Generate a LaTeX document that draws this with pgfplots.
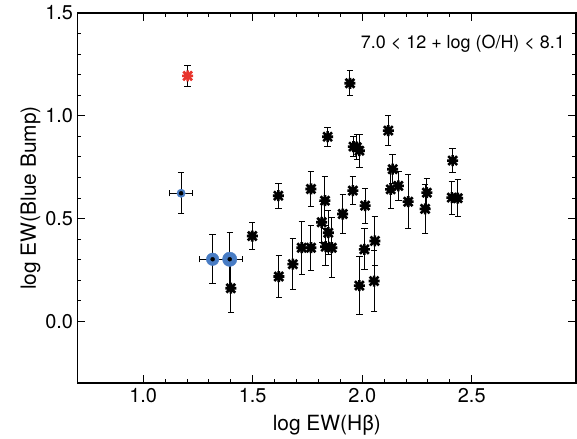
\documentclass[border=0pt]{standalone}
\usepackage{fontspec}
\setmainfont{TeX Gyre Heros}
\usepackage{pgfplots}
\usepackage{pgfplotstable}
\pgfplotsset{compat=1.18}
\definecolor{ptblue}{RGB}{72,124,196}
\definecolor{ptred}{RGB}{232,52,44}
\pgfdeclareplotmark{burst}{%
  \pgfpathmoveto{\pgfqpoint{-\pgfplotmarksize}{0pt}}%
  \pgfpathlineto{\pgfqpoint{\pgfplotmarksize}{0pt}}%
  \pgfpathmoveto{\pgfqpoint{0pt}{-\pgfplotmarksize}}%
  \pgfpathlineto{\pgfqpoint{0pt}{\pgfplotmarksize}}%
  \pgfpathmoveto{\pgfqpoint{-0.8\pgfplotmarksize}{-0.8\pgfplotmarksize}}%
  \pgfpathlineto{\pgfqpoint{0.8\pgfplotmarksize}{0.8\pgfplotmarksize}}%
  \pgfpathmoveto{\pgfqpoint{-0.8\pgfplotmarksize}{0.8\pgfplotmarksize}}%
  \pgfpathlineto{\pgfqpoint{0.8\pgfplotmarksize}{-0.8\pgfplotmarksize}}%
  \pgfusepathqstroke}
\pgfplotstableread{
x y ey
1.400 0.161 0.120
1.498 0.415 0.065
1.617 0.611 0.060
1.619 0.218 0.100
1.683 0.278 0.125
1.724 0.358 0.130
1.766 0.358 0.110
1.766 0.644 0.087
1.815 0.482 0.100
1.830 0.587 0.120
1.833 0.363 0.090
1.845 0.431 0.107
1.861 0.358 0.145
1.842 0.898 0.047
1.911 0.522 0.093
1.944 1.158 0.060
1.957 0.636 0.070
1.960 0.850 0.050
1.975 0.847 0.060
1.987 0.830 0.080
1.987 0.174 0.140
2.010 0.350 0.100
2.013 0.563 0.085
2.054 0.196 0.150
2.058 0.391 0.120
2.119 0.928 0.075
2.130 0.642 0.095
2.139 0.740 0.070
2.165 0.659 0.070
2.210 0.582 0.130
2.287 0.547 0.120
2.295 0.626 0.070
2.413 0.782 0.058
2.409 0.602 0.080
2.436 0.599 0.090
}\blackpts
\pgfplotstableread{
x y ey
1.203 1.194 0.050
}\redpts
\pgfplotstableread{
x y ex ey
1.173 0.623 0.051 0.100
1.317 0.302 0.061 0.119
1.395 0.302 0.059 0.130
}\bluepts
\begin{document}
\begin{tikzpicture}
\begin{axis}[
  at={(0,0)}, anchor=south west,
  scale only axis, width=498.5bp, height=370bp,
  xmin=0.7, xmax=2.976, ymin=-0.3, ymax=1.5,
  xtick={1.0,1.5,2.0,2.5}, ytick={0.0,0.5,1.0,1.5},
  minor tick num=4,
  tick align=inside,
  major tick length=8bp, minor tick length=4bp,
  tick style={black, line width=0.9bp},
  axis line style={line width=1.1bp},
  xticklabel style={font=\fontsize{20}{22}\selectfont, yshift=-2bp},
  yticklabel style={font=\fontsize{20}{22}\selectfont, xshift=-1bp},
  /pgf/number format/assume math mode=true,
  /pgf/number format/.cd, fixed, fixed zerofill, precision=1, /pgfplots/.cd,
  xlabel={log EW(Hβ)},
  ylabel={log EW(Blue Bump)},
  label style={font=\fontsize{21}{23}\selectfont},
  xlabel style={yshift=-5bp},
  ylabel style={yshift=-2bp},
  clip=false,
  error bars/error bar style={line width=1bp, black},
  error bars/error mark options={rotate=90, mark size=3.2bp, line width=1bp, black},
]
% black points
\addplot[black, only marks, mark=burst, mark size=5.5bp, mark options={line width=2.6bp},
  error bars/.cd, y dir=both, y explicit]
  table[x=x, y=y, y error=ey] {\blackpts};
% red point
\addplot[ptred, only marks, mark=burst, mark size=5.5bp, mark options={line width=2.6bp},
  error bars/.cd, y dir=both, y explicit]
  table[x=x, y=y, y error=ey] {\redpts};
% blue circles
\addplot[only marks, mark=*, mark size=4.2bp, mark options={fill=ptblue, draw=ptblue}]
  coordinates {(1.173,0.623)};
\addplot[only marks, mark=*, mark size=6.3bp, mark options={fill=ptblue, draw=ptblue}]
  coordinates {(1.317,0.302)};
\addplot[only marks, mark=*, mark size=7.2bp, mark options={fill=ptblue, draw=ptblue}]
  coordinates {(1.395,0.302)};
\addplot[black, only marks, mark=none,
  error bars/.cd, y dir=both, y explicit, x dir=both, x explicit]
  table[x=x, y=y, x error=ex, y error=ey] {\bluepts};
\node[anchor=north east, font=\fontsize{18}{20}\selectfont, inner sep=0pt]
  at (rel axis cs:0.978,0.94) {7.0 < 12 + log (O/H) < 8.1};
\end{axis}
\pgfresetboundingbox
\path[use as bounding box] (-77.5bp,-56bp) rectangle (499.5bp,383bp);
\end{tikzpicture}
\end{document}
